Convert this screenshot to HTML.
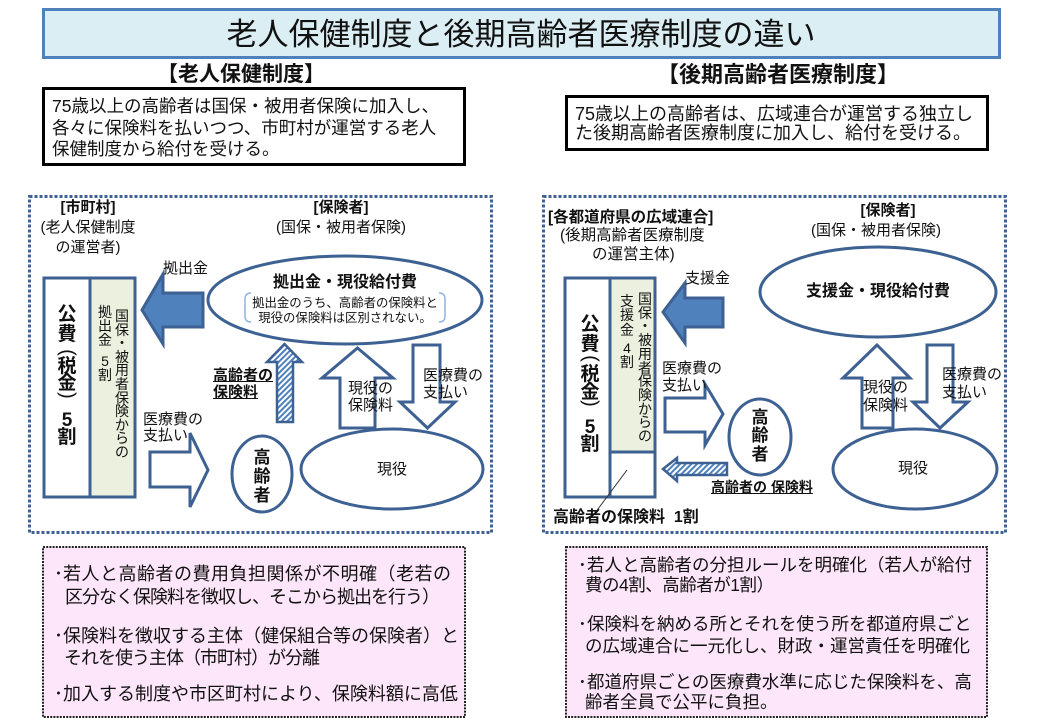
<!DOCTYPE html>
<html><head><meta charset="utf-8">
<style>
html,body{margin:0;padding:0;background:#fff;}
body{width:1039px;height:720px;position:relative;overflow:hidden;font-family:"Liberation Sans","Noto Sans CJK JP",sans-serif;color:#111;}
svg{position:absolute;left:0;top:0;}
.t{position:absolute;white-space:nowrap;font-family:"Liberation Sans","Noto Sans CJK JP",sans-serif;color:#111;}
.c{transform:translateX(-50%);text-align:center;}
.b{font-weight:bold;}
.u{text-decoration:underline;}
.vc{position:absolute;width:24px;text-align:center;font-weight:bold;font-size:19px;line-height:19px;white-space:nowrap;}
.vp{position:absolute;width:24px;height:19px;text-align:center;font-weight:normal;font-size:20px;line-height:19px;white-space:nowrap;transform:rotate(90deg);}
.gc{position:absolute;width:20px;text-align:center;font-size:14px;white-space:nowrap;}
</style></head><body>
<svg width="1039" height="720" viewBox="0 0 1039 720">
<defs>
<pattern id="hatch" patternUnits="userSpaceOnUse" width="4" height="4" patternTransform="rotate(45)">
<rect width="4" height="4" fill="#fff"/><rect width="2" height="4" fill="#4f81bd"/>
</pattern>
</defs>
<rect x="43.5" y="9.5" width="956" height="48" fill="#dbeef4" stroke="#4f81bd" stroke-width="3"/>
<rect x="43.5" y="88.5" width="421" height="76" fill="#fff" stroke="#000" stroke-width="3"/>
<rect x="566.5" y="96.5" width="421" height="53" fill="#fff" stroke="#000" stroke-width="3"/>
<rect x="29.5" y="196.5" width="462" height="336" fill="none" stroke="#3d6192" stroke-width="3" stroke-dasharray="3 2"/>
<rect x="543.5" y="196.5" width="462" height="336" fill="none" stroke="#3d6192" stroke-width="3" stroke-dasharray="3 2"/>
<rect x="43" y="547" width="422" height="170" fill="#fde6fa" stroke="#222" stroke-width="2" stroke-dasharray="2 1.2"/>
<rect x="566" y="547" width="421" height="170" fill="#fde6fa" stroke="#222" stroke-width="2" stroke-dasharray="2 1.2"/>

<!-- LEFT DIAGRAM -->
<rect x="90" y="278" width="45" height="219" fill="#ebf1de"/>
<rect x="44" y="278" width="91" height="219" fill="none" stroke="#3d6192" stroke-width="3"/>
<line x1="90" y1="278" x2="90" y2="497" stroke="#3d6192" stroke-width="3"/>
<polygon points="142,310 163,274 163,293 203,293 203,327 163,327 163,344" fill="#4f81bd" stroke="#3d6192" stroke-width="3"/>
<ellipse cx="345" cy="300" rx="137" ry="44" fill="#fff" stroke="#3d6192" stroke-width="3"/>
<path d="M251 293 Q245 293 245 299 L245 316 Q245 322 251 322" fill="none" stroke="#8db4e2" stroke-width="1.5"/>
<path d="M439 293 Q445 293 445 299 L445 316 Q445 322 439 322" fill="none" stroke="#8db4e2" stroke-width="1.5"/>
<ellipse cx="392" cy="469" rx="91" ry="40" fill="#fff" stroke="#3d6192" stroke-width="3"/>
<ellipse cx="262" cy="474" rx="30" ry="38" fill="#fff" stroke="#3d6192" stroke-width="3"/>
<polygon points="284.5,344 302,362 293,362 293,422 277,422 277,362 267,362" fill="url(#hatch)" stroke="#3d6192" stroke-width="2.5"/>
<polygon points="357.5,348 393,378 375,378 375,428 340,428 340,378 322,378" fill="#fff" stroke="#3d6192" stroke-width="3"/>
<polygon points="413,345 440,345 440,402 455,402 427.5,428 400,402 413,402" fill="#fff" stroke="#3d6192" stroke-width="3"/>
<polygon points="150,452 190,452 190,433 208,470 190,507 190,487 150,487" fill="#fff" stroke="#3d6192" stroke-width="3"/>

<!-- RIGHT DIAGRAM -->
<rect x="610" y="278" width="45" height="174" fill="#ebf1de"/>
<rect x="565" y="278" width="90" height="219" fill="none" stroke="#3d6192" stroke-width="3"/>
<line x1="610" y1="278" x2="610" y2="497" stroke="#3d6192" stroke-width="3"/>
<line x1="610" y1="452" x2="655" y2="452" stroke="#3d6192" stroke-width="3"/>
<line x1="627" y1="470" x2="595" y2="513" stroke="#333" stroke-width="1"/>
<polygon points="663,312 685,283 685,298 723,298 723,327 685,327 685,343" fill="#4f81bd" stroke="#3d6192" stroke-width="3"/>
<polygon points="665,398 705,398 705,384 723,414 705,445 705,432 665,432" fill="#fff" stroke="#3d6192" stroke-width="3"/>
<polygon points="663,469 677,458 677,463 727,463 727,475 677,475 677,481" fill="url(#hatch)" stroke="#3d6192" stroke-width="2.5"/>
<ellipse cx="760" cy="437" rx="31" ry="38" fill="#fff" stroke="#3d6192" stroke-width="3"/>
<ellipse cx="878" cy="292" rx="118" ry="45" fill="#fff" stroke="#3d6192" stroke-width="3"/>
<ellipse cx="915" cy="469" rx="82" ry="40" fill="#fff" stroke="#3d6192" stroke-width="3"/>
<polygon points="877,345 910,378 893,378 893,428 862,428 862,378 843,378" fill="#fff" stroke="#3d6192" stroke-width="3"/>
<polygon points="927,345 953,345 953,402 968,402 940,428 913,402 927,402" fill="#fff" stroke="#3d6192" stroke-width="3"/>
</svg>

<div class="t c" style="left:521px;top:19px;font-size:31px;line-height:31px;">老人保健制度と後期高齢者医療制度の違い</div>
<div class="t c b" style="left:241px;top:63.5px;font-size:21px;line-height:21px;">【老人保健制度】</div>
<div class="t c b" style="left:778px;top:64px;font-size:22px;line-height:22px;">【後期高齢者医療制度】</div>
<div class="t" style="left:52px;top:96px;font-size:17.5px;line-height:21.5px;">75歳以上の高齢者は国保・被用者保険に加入し、<br>各々に保険料を払いつつ、市町村が運営する老人<br>保健制度から給付を受ける。</div>
<div class="t" style="left:575px;top:104.5px;font-size:18px;line-height:19px;">75歳以上の高齢者は、広域連合が運営する独立し<br>た後期高齢者医療制度に加入し、給付を受ける。</div>

<!-- LEFT DIAGRAM TEXT -->
<div class="t c" style="left:88px;top:198px;font-size:15px;line-height:20px;"><span class="b">[市町村]</span><br>(老人保健制度<br>の運営者)</div>
<div class="t c" style="left:341px;top:198px;font-size:15px;line-height:20px;"><span class="b">[保険者]</span><br>(国保・被用者保険)</div>
<div class="t" style="left:163px;top:260.5px;font-size:15px;line-height:15px;">拠出金</div>
<div class="t c b" style="left:345px;top:275px;font-size:16px;line-height:16px;">拠出金・現役給付費</div>
<div class="t c" style="left:345px;top:295.5px;font-size:12.4px;line-height:15px;">拠出金のうち、高齢者の保険料と<br>現役の保険料は区別されない。</div>
<div class="t b u" style="left:213px;top:366.5px;font-size:15px;line-height:17px;">高齢者の<br>保険料</div>
<div class="t" style="left:348px;top:379.5px;font-size:15px;line-height:17px;">現役の<br>保険料</div>
<div class="t" style="left:423px;top:366.5px;font-size:15px;line-height:17px;">医療費の<br>支払い</div>
<div class="t c" style="left:392px;top:461.5px;font-size:15px;line-height:15px;">現役</div>
<div class="t c b" style="left:262px;top:447.5px;font-size:17px;line-height:19px;">高<br>齢<br>者</div>
<div class="t" style="left:143px;top:412px;font-size:15px;line-height:15.5px;">医療費の<br>支払い</div>
<div class="vc" style="left:55px;top:304.5px;">公</div>
<div class="vc" style="left:55px;top:324.5px;">費</div>
<div class="vp" style="left:55px;top:342.5px;">(</div>
<div class="vc" style="left:55px;top:356.5px;">税</div>
<div class="vc" style="left:55px;top:373.5px;">金</div>
<div class="vp" style="left:55px;top:385.5px;">)</div>
<div class="vc" style="left:55px;top:410.5px;">5</div>
<div class="vc" style="left:55px;top:427.5px;">割</div>
<div class="gc" style="left:112px;top:310px;line-height:13.6px;">国<br>保<br>・<br>被<br>用<br>者<br>保<br>険<br>か<br>ら<br>の</div>
<div class="gc" style="left:95px;top:305px;line-height:14px;">拠<br>出<br>金</div>
<div class="gc" style="left:95px;top:355.25px;line-height:13.5px;">5<br>割</div>

<!-- RIGHT DIAGRAM TEXT -->
<div class="t b" style="left:548px;top:209.5px;font-size:15.5px;line-height:15.5px;">[各都道府県の広域連合]</div>
<div class="t" style="left:560px;top:227.5px;font-size:15.5px;line-height:15.5px;">(後期高齢者医療制度</div>
<div class="t" style="left:592px;top:246.5px;font-size:15.5px;line-height:15.5px;">の運営主体)</div>
<div class="t" style="left:685px;top:270.5px;font-size:15px;line-height:15px;">支援金</div>
<div class="t" style="left:662px;top:359.5px;font-size:15px;line-height:17px;">医療費の<br>支払い</div>
<div class="t c b" style="left:760px;top:408.5px;font-size:17px;line-height:18.5px;">高<br>齢<br>者</div>
<div class="t b u" style="left:711px;top:480px;font-size:14px;line-height:14px;">高齢者の 保険料</div>
<div class="t b" style="left:553px;top:510px;font-size:16px;line-height:16px;">高齢者の保険料&nbsp;&nbsp;1割</div>
<div class="t c b" style="left:888px;top:202.5px;font-size:15px;line-height:15px;">[保険者]</div>
<div class="t c" style="left:876px;top:222.5px;font-size:15px;line-height:15px;">(国保・被用者保険)</div>
<div class="t c b" style="left:878px;top:284px;font-size:16px;line-height:16px;">支援金・現役給付費</div>
<div class="t" style="left:863px;top:379px;font-size:15px;line-height:18px;">現役の<br>保険料</div>
<div class="t" style="left:942px;top:366px;font-size:15px;line-height:18px;">医療費の<br>支払い</div>
<div class="t c" style="left:913px;top:460.5px;font-size:15px;line-height:15px;">現役</div>
<div class="vc" style="left:578px;top:314.5px;">公</div>
<div class="vc" style="left:578px;top:334.5px;">費</div>
<div class="vp" style="left:578px;top:348.5px;">(</div>
<div class="vc" style="left:578px;top:364.5px;">税</div>
<div class="vc" style="left:578px;top:382.5px;">金</div>
<div class="vp" style="left:578px;top:393.5px;">)</div>
<div class="vc" style="left:578px;top:417.5px;">5</div>
<div class="vc" style="left:578px;top:434.5px;">割</div>
<div class="gc" style="left:635px;top:293px;line-height:13.7px;">国<br>保<br>・<br>被<br>用<br>者<br>保<br>険<br>か<br>ら<br>の</div>
<div class="gc" style="left:617px;top:293.75px;line-height:14.5px;">支<br>援<br>金</div>
<div class="gc" style="left:617px;top:341px;line-height:14px;">4<br>割</div>

<!-- PINK LEFT -->
<div class="t" style="left:54px;top:565px;font-size:18px;line-height:18px;">･</div>
<div class="t" style="left:63px;top:565px;font-size:18px;line-height:18px;letter-spacing:0.5px;">若人と高齢者の費用負担関係が不明確（老若の</div>
<div class="t" style="left:65px;top:588px;font-size:18px;line-height:18px;letter-spacing:-1px;">区分なく保険料を徴収し、そこから拠出を行う）</div>
<div class="t" style="left:54px;top:627px;font-size:18px;line-height:18px;">･</div>
<div class="t" style="left:63px;top:627px;font-size:18px;line-height:18px;">保険料を徴収する主体（健保組合等の保険者）と</div>
<div class="t" style="left:64px;top:649px;font-size:18px;line-height:18px;letter-spacing:-1px;">それを使う主体（市町村）が分離</div>
<div class="t" style="left:54px;top:685px;font-size:18px;line-height:18px;">･</div>
<div class="t" style="left:63px;top:685px;font-size:18px;line-height:18px;">加入する制度や市区町村により、保険料額に高低</div>

<!-- PINK RIGHT -->
<div class="t" style="left:578px;top:557.25px;font-size:17.5px;line-height:17.5px;">･</div>
<div class="t" style="left:587px;top:557.25px;font-size:17.5px;line-height:17.5px;">若人と高齢者の分担ルールを明確化（若人が給付</div>
<div class="t" style="left:585px;top:577.25px;font-size:17.5px;line-height:17.5px;letter-spacing:-0.5px;">費の4割、高齢者が1割）</div>
<div class="t" style="left:578px;top:616.25px;font-size:17.5px;line-height:17.5px;">･</div>
<div class="t" style="left:587px;top:616.25px;font-size:17.5px;line-height:17.5px;">保険料を納める所とそれを使う所を都道府県ごと</div>
<div class="t" style="left:585px;top:638.25px;font-size:17.5px;line-height:17.5px;">の広域連合に一元化し、財政・運営責任を明確化</div>
<div class="t" style="left:578px;top:674.25px;font-size:17.5px;line-height:17.5px;">･</div>
<div class="t" style="left:587px;top:674.25px;font-size:17.5px;line-height:17.5px;">都道府県ごとの医療費水準に応じた保険料を、高</div>
<div class="t" style="left:585px;top:694.25px;font-size:17.5px;line-height:17.5px;">齢者全員で公平に負担。</div>
</body></html>
